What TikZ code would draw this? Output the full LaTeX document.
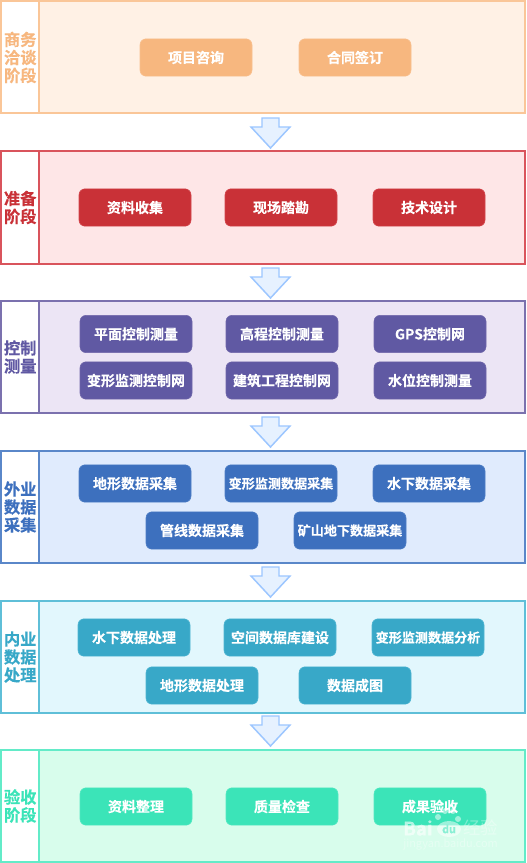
\documentclass[tikz,border=0pt]{standalone}
\usepackage{fontspec}
\setmainfont{Noto Sans CJK SC}[BoldFont={Noto Sans CJK SC Bold},BoldFeatures={FakeBold=0.35}]
\usetikzlibrary{positioning,calc}
\definecolor{oA}{HTML}{FAC698}\definecolor{oB}{HTML}{FFF1E5}\definecolor{oC}{HTML}{F7B77F}
\definecolor{rA}{HTML}{D9545C}\definecolor{rB}{HTML}{FEE6E7}\definecolor{rC}{HTML}{C93137}
\definecolor{pA}{HTML}{7B71AE}\definecolor{pB}{HTML}{ECE5F5}\definecolor{pC}{HTML}{6059A3}
\definecolor{bA}{HTML}{5A87C9}\definecolor{bB}{HTML}{E0EBFD}\definecolor{bC}{HTML}{3D70BE}
\definecolor{cA}{HTML}{5FBFD8}\definecolor{cB}{HTML}{E2F7FD}\definecolor{cC}{HTML}{38A8C8}
\definecolor{gA}{HTML}{63EBC8}\definecolor{gB}{HTML}{D8FDEC}\definecolor{gC}{HTML}{3BE4B8}
\definecolor{arF}{HTML}{E6F1FF}\definecolor{arD}{HTML}{9CC6FF}
\tikzset{
  x=0.75pt,y=-0.75pt,
  band/.style={draw=#1A,fill=#1B,line width=1.5pt,outer sep=0,minimum width=364.5pt,minimum height=84pt,inner sep=0,anchor=west},
  tag/.style={draw=#1A,fill=white,line width=1.5pt,outer sep=0,minimum width=28.2pt,minimum height=84pt,inner sep=0,anchor=east,
    text=#1C,font=\bfseries\fontsize{12.2}{13.5}\selectfont,align=center},
  btn/.style={draw=#1A!60!#1C,fill=#1C,rounded corners=4.5pt,line width=.4pt,minimum width=84pt,minimum height=28pt,inner sep=0,
    text=white,font=\bfseries\fontsize{10.5}{12}\selectfont},
  flow/.style={draw=arD,fill=arF,line width=1.1pt,line join=miter}
}
\newcommand{\flowarrow}[1]{\draw[flow] (#1) ++(-8.5,-15) -- ++(17,0) -- ++(0,9) -- ++(11,0) -- ++(-19.5,21) -- ++(-19.5,-21) -- ++(11,0) -- cycle;}
\begin{document}
\begin{tikzpicture}
\useasboundingbox (0,0) rectangle (526,863);
\fill[white] (0,0) rectangle (526,863);
% bands
\coordinate (b1) at (39,57.5);\coordinate (b2) at (39,207.5);\coordinate (b3) at (39,357);
\coordinate (b4) at (39,507);\coordinate (b5) at (39,657);\coordinate (b6) at (39,806);
\node[band=o] (B1) at (b1) {};
\node[band=r] (B2) at (b2) {};
\node[band=p] (B3) at (b3) {};
\node[band=b] (B4) at (b4) {};
\node[band=c] (B5) at (b5) {};
\node[band=g] (B6) at (b6) {};
\node[tag=o] (T1) at (b1) {商务\\洽谈\\阶段};
\node[tag=r] (T2) at (b2) {准备\\阶段};
\node[tag=p] (T3) at (b3) {控制\\测量};
\node[tag=b] (T4) at (b4) {外业\\数据\\采集};
\node[tag=c] (T5) at (b5) {内业\\数据\\处理};
\node[tag=g] (T6) at (b6) {验收\\阶段};
% arrows
\coordinate (a1) at (270.5,133);\coordinate (a2) at (270.5,283);\coordinate (a3) at (270.5,432);
\coordinate (a4) at (270.5,582);\coordinate (a5) at (270.5,731);
\flowarrow{a1}\flowarrow{a2}\flowarrow{a3}\flowarrow{a4}\flowarrow{a5}
% buttons
\node[btn=o] (n11) at (196,57.5) {项目咨询};
\node[btn=o] (n12) at (355,57.5) {合同签订};
\node[btn=r] (n21) at (135,207.5) {资料收集};
\node[btn=r] (n22) at (281,207.5) {现场踏勘};
\node[btn=r] (n23) at (429,207.5) {技术设计};
\node[btn=p] (n31) at (136,334) {平面控制测量};
\node[btn=p] (n32) at (282,334) {高程控制测量};
\node[btn=p] (n33) at (430,334) {GPS控制网};
\node[btn=p] (n34) at (136,380.5) {变形监测控制网};
\node[btn=p] (n35) at (282,380.5) {建筑工程控制网};
\node[btn=p] (n36) at (430,380.5) {水位控制测量};
\node[btn=b] (n41) at (135,483.5) {地形数据采集};
\node[btn=b] (n42) at (281,483.5) {\fontsize{9.8}{12}\selectfont 变形监测数据采集};
\node[btn=b] (n43) at (429,483.5) {水下数据采集};
\node[btn=b] (n44) at (202,530.5) {管线数据采集};
\node[btn=b] (n45) at (350,530.5) {\fontsize{9.8}{12}\selectfont 矿山地下数据采集};
\node[btn=c] (n51) at (134,637.5) {水下数据处理};
\node[btn=c] (n52) at (280,637.5) {空间数据库建设};
\node[btn=c] (n53) at (428,637.5) {\fontsize{9.8}{12}\selectfont 变形监测数据分析};
\node[btn=c] (n54) at (202,685.5) {地形数据处理};
\node[btn=c] (n55) at (355,685.5) {数据成图};
\node[btn=g] (n61) at (136,806.5) {资料整理};
\node[btn=g] (n62) at (282,806.5) {质量检查};
\node[btn=g] (n63) at (430,806.5) {成果验收};
% watermark
\begin{scope}[white,opacity=.5]
\fill (449,829) ellipse (12 and 8);
\fill (438,817) circle (3);\fill (445,811) circle (3);\fill (453,811) circle (3);\fill (458,819) circle (3);
\end{scope}
\node[white,opacity=.6,font=\bfseries\fontsize{14}{15}\selectfont,anchor=west,inner sep=0] (wm1) at (403,828) {Bai};
\node[white,opacity=.35,font=\fontsize{13}{14}\selectfont,anchor=west,inner sep=0] (wm3) at (463,828) {经验};
\node[white,opacity=.35,font=\fontsize{8.2}{9}\selectfont,anchor=west,inner sep=0] (wm4) at (403,845) {jingyan.baidu.com};
\node[gC!60!white,font=\bfseries\fontsize{8}{9}\selectfont,inner sep=0] (wm2) at (449,829) {du};
\end{tikzpicture}
\end{document}
